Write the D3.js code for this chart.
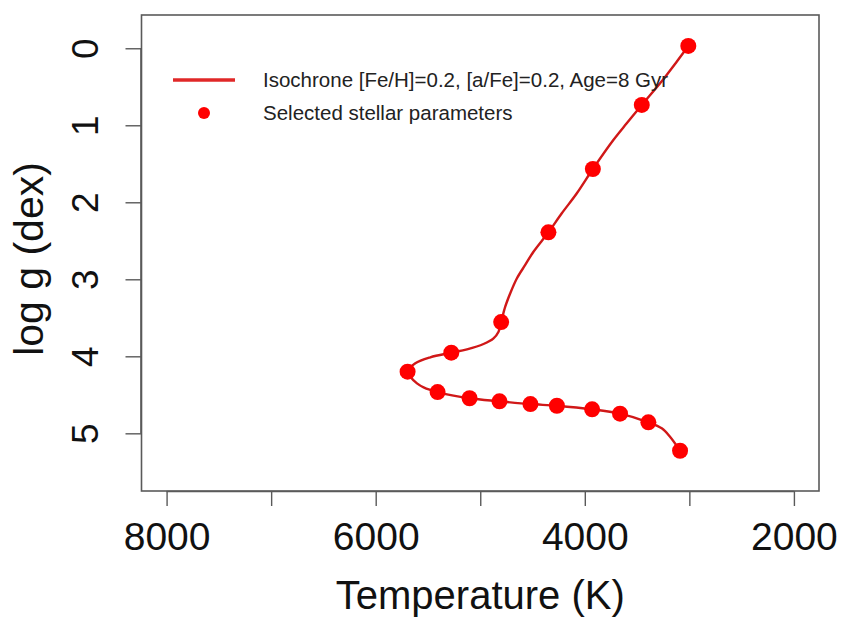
<!DOCTYPE html>
<html>
<head>
<meta charset="utf-8">
<script src="https://cdn.jsdelivr.net/npm/d3@7"></script>
<style>
  html, body { margin: 0; padding: 0; background: #fff; }
  svg { display: block; font-family: "Liberation Sans", Arial, Helvetica, sans-serif; }
</style>
</head>
<body>
<svg id="chart" width="841" height="619"></svg>
<script>
// Isochrone track (Teff in K, log g in dex), from the lower main sequence up the giant branch
const isoTeff = [3089, 3185, 3264, 3392, 3663, 3930, 4267, 4520, 4816, 5102, 5408, 5542, 5605, 5669, 5695,
                 5621, 5478, 5277, 5127, 4969, 4873, 4825, 4800, 4761, 4713, 4649, 4570, 4491, 4348,
                 4220, 4076, 3923, 3727, 3599, 3455, 3280, 3121, 3010];
const isoLogg = [5.226, 5.044, 4.935, 4.857, 4.745, 4.688, 4.642, 4.620, 4.584, 4.545, 4.464, 4.403, 4.351, 4.265, 4.200,
                 4.091, 4.013, 3.953, 3.909, 3.840, 3.766, 3.680, 3.555, 3.356, 3.182, 2.987, 2.814, 2.642, 2.390,
                 2.143, 1.883, 1.568, 1.191, 0.974, 0.736, 0.455, 0.174, -0.030];

// Selected stellar parameters
const selTeff = [3010, 3455, 3923, 4348, 4800, 5277, 5695, 5408, 5102, 4816, 4520, 4267, 3930, 3663, 3392, 3089];
const selLogg = [-0.030, 0.736, 1.568, 2.390, 3.555, 3.953, 4.200, 4.464, 4.545, 4.584, 4.620, 4.642, 4.688, 4.745, 4.857, 5.226];

// Axis ticks
const xTicks = [8000, 7000, 6000, 5000, 4000, 3000, 2000];
const xTickLabels = ["8000", "", "6000", "", "4000", "", "2000"];
const yTicks = [0, 1, 2, 3, 4, 5];

const legendLabels = ["Isochrone [Fe/H]=0.2, [a/Fe]=0.2, Age=8 Gyr", "Selected stellar parameters"];

const svg = d3.select("#chart");
const plotL = 141.5, plotR = 819, plotT = 15, plotB = 491;

const x = d3.scaleLinear().domain([8240, 1760]).range([plotL, plotR]);
const y = d3.scaleLinear().domain([-0.432, 5.749]).range([plotT, plotB]);

const lineColor = "#d01818";
const ptColor = "#ff0000";
const axisColor = "#5a5a5a";

// Plot frame
svg.append("rect")
  .attr("x", plotL).attr("y", plotT)
  .attr("width", plotR - plotL).attr("height", plotB - plotT)
  .attr("fill", "none").attr("stroke", axisColor).attr("stroke-width", 1.6);

// X axis
const xAxis = d3.axisBottom(x)
  .tickValues(xTicks)
  .tickSize(15)
  .tickPadding(15)
  .tickFormat((d, i) => xTickLabels[i]);
const gx = svg.append("g").attr("transform", `translate(0,${plotB})`).call(xAxis);
gx.select(".domain")
  .attr("d", `M${x(8000)},0.5H${x(2000)}`)
  .attr("stroke", axisColor).attr("stroke-width", 1.6);
gx.selectAll(".tick line").attr("stroke", axisColor).attr("stroke-width", 1.4);
gx.selectAll(".tick text")
  .attr("font-family", "Liberation Sans, Arial, sans-serif")
  .attr("font-size", 39).attr("fill", "#111")
  .attr("dy", null).attr("y", 59);

// Y axis
const yAxis = d3.axisLeft(y).tickValues(yTicks).tickSize(16).tickFormat(d3.format("d"));
const gy = svg.append("g").attr("transform", `translate(${plotL},0)`).call(yAxis);
gy.select(".domain")
  .attr("d", `M-0.5,${y(0)}V${y(5)}`)
  .attr("stroke", axisColor).attr("stroke-width", 1.6);
gy.selectAll(".tick line").attr("stroke", axisColor).attr("stroke-width", 1.4);
gy.selectAll(".tick text")
  .attr("font-family", "Liberation Sans, Arial, sans-serif")
  .attr("font-size", 37).attr("fill", "#111")
  .attr("x", null).attr("dy", null)
  .attr("text-anchor", "middle")
  .attr("transform", `translate(${98 - plotL},0) rotate(-90)`);

// Axis titles
svg.append("text")
  .attr("x", (x(8000) + x(2000)) / 2).attr("y", 609)
  .attr("text-anchor", "middle")
  .attr("font-size", 40).attr("fill", "#111")
  .text("Temperature (K)");

svg.append("text")
  .attr("transform", `translate(43,${(plotT + plotB) / 2 + 6}) rotate(-90)`)
  .attr("text-anchor", "middle")
  .attr("font-size", 41).attr("fill", "#111")
  .text("log g (dex)");

// Isochrone curve
const iso = isoTeff.map((t, i) => [t, isoLogg[i]]);
svg.append("path")
  .datum(iso)
  .attr("d", d3.line().x(d => x(d[0])).y(d => y(d[1])).curve(d3.curveCatmullRom.alpha(0.5)))
  .attr("fill", "none")
  .attr("stroke", lineColor)
  .attr("stroke-width", 2.4)
  .attr("stroke-linejoin", "round");

// Selected points
const sel = selTeff.map((t, i) => [t, selLogg[i]]);
svg.append("g").selectAll("circle")
  .data(sel)
  .join("circle")
  .attr("cx", d => x(d[0]))
  .attr("cy", d => y(d[1]))
  .attr("r", 8)
  .attr("fill", ptColor);

// Legend
const lg = svg.append("g");
lg.append("line")
  .attr("x1", 173).attr("x2", 235).attr("y1", 80).attr("y2", 80)
  .attr("stroke", "#e02828").attr("stroke-width", 3.5);
lg.append("circle").attr("cx", 204).attr("cy", 113).attr("r", 6).attr("fill", ptColor);
lg.selectAll("text.lab")
  .data(legendLabels)
  .join("text")
  .attr("class", "lab")
  .attr("x", 263)
  .attr("y", (d, i) => 87 + i * 33)
  .attr("font-size", 20.5)
  .attr("fill", "#222")
  .text(d => d);
</script>
</body>
</html>
